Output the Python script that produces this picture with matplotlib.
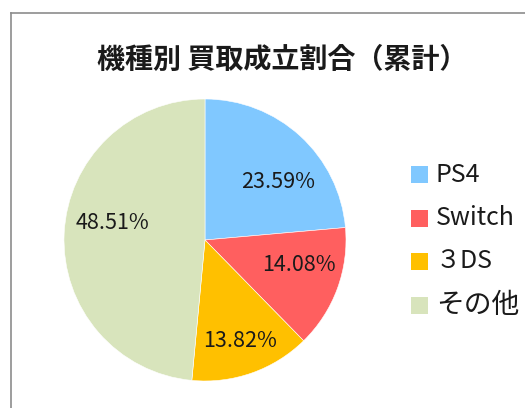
import matplotlib
matplotlib.use("Agg")
import matplotlib.pyplot as plt
from matplotlib.lines import Line2D
from matplotlib.patches import Rectangle

plt.rcParams['font.family'] = ['Noto Sans CJK JP', 'DejaVu Sans']

title = "機種別 買取成立割合（累計）"
categories = ["PS4", "Switch", "３DS", "その他"]
values = [23.59, 14.08, 13.82, 48.51]
labels_text = ["23.59%", "14.08%", "13.82%", "48.51%"]
colors = ["#80C8FF", "#FF5F5F", "#FFC000", "#D8E4BC"]

W, H = 525, 408
fig = plt.figure(figsize=(W / 100, H / 100), dpi=100)

# chart frame (cropped at right and bottom)
fig.add_artist(Line2D([10.5 / W, 10.5 / W], [0, 1 - 12.5 / H], color="#8c8c8c", lw=1.2))
fig.add_artist(Line2D([10.5 / W, 1], [1 - 12.5 / H, 1 - 12.5 / H], color="#8c8c8c", lw=1.2))

cx, cy, r = 205, 240, 141
ax = fig.add_axes([(cx - r) / W, (H - cy - r) / H, 2 * r / W, 2 * r / H])
wedges, _ = ax.pie(values, colors=colors, startangle=90, counterclock=False,
                   radius=1.0, wedgeprops=dict(linewidth=0.4, edgecolor="white"))
ax.set_xlim(-1, 1)
ax.set_ylim(-1, 1)
ax.set_aspect("equal")
ax.axis("off")

# label placement (pixel centres read from layout)
label_px = [(278, 182), (299, 265), (240, 341), (112, 223)]
for txt, (px, py) in zip(labels_text, label_px):
    ax.text((px - cx) / r, (cy - py) / r, txt, ha="center", va="center",
            fontsize=15.5, color="#1a1a1a")

fig.text(282 / W, 1 - 60 / H, title, ha="center", va="center",
         fontsize=20.2, fontweight="bold", color="#1a1a1a")

# legend
leg_y = [174.5, 218, 261, 305]
for i, (cat, col, y) in enumerate(zip(categories, colors, leg_y)):
    fig.add_artist(Rectangle((411 / W, 1 - (y + 8.5) / H), 17 / W, 17 / H,
                             transform=fig.transFigure, color=col, lw=0))
    fs = 20 if cat == "その他" else 18
    fig.text(436 / W, 1 - y / H, cat, ha="left", va="center",
             fontsize=fs, color="#1a1a1a")

fig.savefig("out.png", dpi=100, facecolor="white")
